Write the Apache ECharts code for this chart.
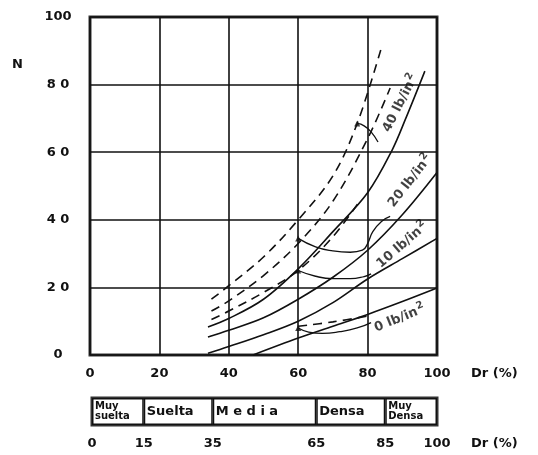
<!DOCTYPE html>
<html>
<head>
<meta charset="utf-8">
<script src="https://cdn.jsdelivr.net/npm/echarts@6/dist/echarts.min.js"></script>
<style>html,body{margin:0;padding:0;background:#fff}#c{width:538px;height:455px}</style>
</head>
<body>
<div id="c"></div>
<script>
// ---- data ----
const xTickLabels = ['0', '20', '40', '60', '80', '100'];
const yTickLabels = ['0', '2 0', '4 0', '6 0', '8 0', '100'];

// solid curves (Dr %, N)
const solid0  = [[47,0],[60,5],[70,8.5],[80,12],[90,15.8],[100,19.8]];
const solid10 = [[34,0.5],[40,2.5],[50,6],[60,10],[70,15.5],[80,22.5],[90,28.5],[100,34.5]];
const solid20 = [[34,5.3],[40,7.3],[50,11],[60,16.5],[70,23],[80,31],[90,41.5],[100,54]];
const solid40 = [[34,8.3],[40,10.8],[50,16.5],[60,25.5],[70,36.5],[80,48],[87,60.5],[91,70],[96.5,84]];

// dashed curves
const dash0  = [[60,8.5],[70,9.8],[80,11.5]];
const dash10 = [[35,10.5],[40,13],[50,18.5],[60,25],[70,35],[78,46]];
const dash20 = [[35,13],[40,16],[50,23.5],[60,33],[70,45.5],[80,64],[86.5,79]];
const dash40 = [[35,16.5],[40,20.5],[50,29],[60,40],[70,53],[77,68.5],[84,91]];

// leader arcs from the marked points to the labels
const arc0  = [[60,8],[63,6.8],[67,6.4],[72,6.9],[77,8],[81,9.6]];
const arc10 = [[60,25],[65,23.3],[70,22.6],[75,22.6],[79,23.2],[81,24]];
const arc20 = [[60,34.5],[65,32],[70,30.8],[75,30.4],[78.5,31],[80,33],[81.5,36.5],[84,39.5],[86.5,41]];
const arc40 = [[77,68.5],[79,67.8],[81,66],[83,63]];
const markPts = [[60,8],[60,25],[60,34.5],[77,68.5]];

// density classes (lower bar)
const bandLimits = [0, 15, 35, 65, 85, 100];
const bandTickLabels = ['0', '15', '35', '65', '85', '100'];
const bandNames = ['Muy\nsuelta', 'Suelta', 'M e d i a', 'Densa', 'Muy\nDensa'];

// ---- chart ----
const FONT = 'DejaVu Sans';
const ink = '#111';
const chart = echarts.init(document.getElementById('c'), null, {renderer: 'canvas'});

function curve(data, dashed) {
  return {
    type: 'line', data: data, smooth: 0.35, symbol: 'none', silent: true,
    xAxisIndex: 0, yAxisIndex: 0,
    lineStyle: {color: ink, width: 1.6, type: dashed ? [9, 6] : 'solid'}
  };
}
function arc(data) {
  return {
    type: 'line', data: data, smooth: 0.5, symbol: 'none', silent: true,
    xAxisIndex: 0, yAxisIndex: 0,
    lineStyle: {color: ink, width: 1.3}
  };
}
function curveLabel(x, y, txt, rot) {
  return {
    type: 'scatter', xAxisIndex: 0, yAxisIndex: 0, silent: true,
    symbolSize: 1, itemStyle: {color: 'rgba(0,0,0,0)'},
    data: [[x, y]],
    label: {
      show: true, position: 'inside', rotate: rot, align: 'center', verticalAlign: 'middle',
      formatter: '{a|' + txt + '}{s|2}',
      rich: {
        a: {fontFamily: FONT, fontSize: 13, fontWeight: 'bold', color: ink},
        s: {fontFamily: FONT, fontSize: 10, fontWeight: 'bold', color: ink, padding: [0, 0, 9, 1]}
      }
    }
  };
}

const series = [
  curve(solid0, false), curve(solid10, false), curve(solid20, false), curve(solid40, false),
  curve(dash0, true), curve(dash10, true), curve(dash20, true), curve(dash40, true),
  arc(arc0), arc(arc10), arc(arc20), arc(arc40),
  {type: 'scatter', xAxisIndex: 0, yAxisIndex: 0, silent: true, data: markPts,
   symbol: 'triangle', symbolSize: 6, itemStyle: {color: ink}},
  curveLabel(89.5, 74.5, '40 lb/in', 63),
  curveLabel(92.3, 51.5, '20 lb/in', 52),
  curveLabel(90, 32.5, '10 lb/in', 41),
  curveLabel(89.3, 10.8, '0 lb/in', 22)
];

bandNames.forEach(function (name, i) {
  const two = name.indexOf('\n') >= 0;
  series.push({
    type: 'bar', stack: 'band', xAxisIndex: 1, yAxisIndex: 1, silent: true,
    barWidth: '100%',
    data: [bandLimits[i + 1] - bandLimits[i]],
    itemStyle: {color: '#fff', borderColor: ink, borderWidth: 1.5},
    label: {
      show: true, position: 'insideLeft', distance: 3, formatter: name,
      fontFamily: FONT, fontWeight: 'bold', color: ink,
      fontSize: two ? 10 : 13, lineHeight: two ? 10 : 15
    }
  });
});

chart.setOption({
  animation: false,
  backgroundColor: '#fff',
  grid: [
    {left: 90, right: 101, top: 17, bottom: 100, show: true, borderColor: '#333', borderWidth: 3, backgroundColor: 'transparent'},
    {left: 92, right: 101, top: 398, height: 27, show: true, borderColor: '#333', borderWidth: 3, backgroundColor: 'transparent'}
  ],
  xAxis: [
    {
      gridIndex: 0, type: 'value', min: 0, max: 100, interval: 20,
      axisLine: {show: false}, axisTick: {show: false},
      splitLine: {show: true, lineStyle: {color: ink, width: 1.6}},
      axisLabel: {margin: 12, fontFamily: FONT, fontSize: 13, fontWeight: 'bold', color: ink,
        formatter: function (v) { return xTickLabels[Math.round(v / 20)]; }},
      name: 'Dr (%)', nameLocation: 'end', nameGap: 34,
      nameTextStyle: {fontFamily: FONT, fontSize: 13, fontWeight: 'bold', color: ink, verticalAlign: 'top', padding: [12, 0, 0, 0]}
    },
    {
      gridIndex: 1, type: 'value', min: 0, max: 100, interval: 5,
      axisLine: {show: false}, axisTick: {show: false}, splitLine: {show: false},
      axisLabel: {margin: 12, fontFamily: FONT, fontSize: 13, fontWeight: 'bold', color: ink,
        formatter: function (v) { const k = bandLimits.indexOf(v); return k >= 0 ? bandTickLabels[k] : ''; }},
      name: 'Dr (%)', nameLocation: 'end', nameGap: 34,
      nameTextStyle: {fontFamily: FONT, fontSize: 13, fontWeight: 'bold', color: ink, verticalAlign: 'top', padding: [12, 0, 0, 0]}
    }
  ],
  yAxis: [
    {
      gridIndex: 0, type: 'value', min: 0, max: 100, interval: 20,
      axisLine: {show: false}, axisTick: {show: false},
      splitLine: {show: true, lineStyle: {color: ink, width: 1.6}},
      axisLabel: {margin: 32, align: 'center', fontFamily: FONT, fontSize: 13, fontWeight: 'bold', color: ink,
        formatter: function (v) { return yTickLabels[Math.round(v / 20)]; }}
    },
    {
      gridIndex: 1, type: 'category', data: ['Dr'],
      axisLine: {show: false}, axisTick: {show: false}, axisLabel: {show: false}
    }
  ],
  graphic: [
    {type: 'text', left: 12, top: 58, style: {text: 'N', fontFamily: FONT, fontSize: 13, fontWeight: 'bold', fill: ink}}
  ],
  series: series
});
</script>
</body>
</html>
